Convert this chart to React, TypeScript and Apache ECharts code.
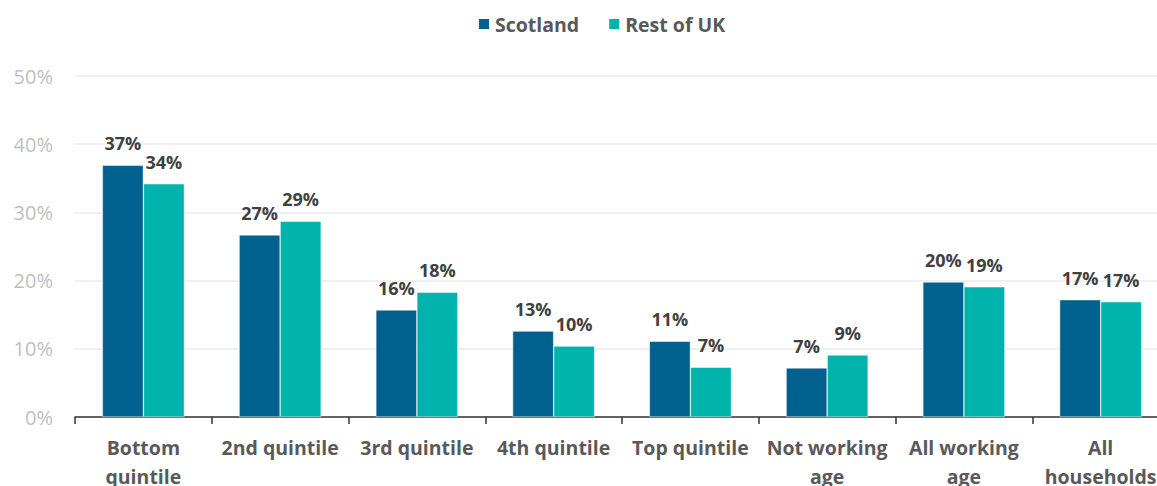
import React, { useEffect, useRef } from "react";
import * as echarts from "echarts";

const categories = [
  "Bottom\nquintile",
  "2nd quintile",
  "3rd quintile",
  "4th quintile",
  "Top quintile",
  "Not working\nage",
  "All working\nage",
  "All\nhouseholds",
];
const scotland = [36.9, 26.7, 15.7, 12.6, 11.1, 7.2, 19.8, 17.2];
const restOfUK = [34.2, 28.7, 18.3, 10.4, 7.3, 9.1, 19.1, 16.9];
const seriesNames = ["Scotland", "Rest of UK"];
const yTicks = { min: 0, max: 50, interval: 10 };

const FONT = "Open Sans";

export default function App() {
  const ref = useRef<HTMLDivElement>(null);
  useEffect(() => {
    if (!ref.current) return;
    const chart = echarts.init(ref.current, null, { renderer: "svg" });
    const label = {
      show: true,
      position: "top" as const,
      distance: 13,
      color: "#404040",
      fontWeight: "bold" as const,
      fontSize: 18,
      fontFamily: FONT,
      formatter: (p: any) => Math.round(p.value) + "%",
    };
    chart.setOption({
      animation: false,
      backgroundColor: "#ffffff",
      textStyle: { fontFamily: FONT },
      legend: {
        top: 9,
        left: 472,
        itemWidth: 12,
        itemHeight: 12,
        itemGap: 28,
        icon: "rect",
        textStyle: { color: "#595959", fontWeight: "bold", fontSize: 19.5, fontFamily: FONT },
        data: seriesNames,
      },
      grid: { left: 75, right: -12, top: 76, bottom: 69, containLabel: false, outerBoundsMode: "none" },
      xAxis: {
        type: "category",
        data: categories,
        axisLine: { lineStyle: { color: "#333333", width: 1.5 } },
        axisTick: { show: true, length: 7, lineStyle: { color: "#333333", width: 1.5 } },
        axisLabel: {
          color: "#595959",
          fontWeight: "bold",
          fontSize: 19.5,
          fontFamily: FONT,
          margin: 16,
          lineHeight: 29,
          interval: 0,
        },
      },
      yAxis: {
        type: "value",
        min: yTicks.min,
        max: yTicks.max,
        interval: yTicks.interval,
        axisLabel: {
          formatter: (v: number) => v + "%",
          color: "#BFBFBF",
          fontSize: 20,
          fontFamily: FONT,
          margin: 22,
        },
        axisLine: { show: false },
        axisTick: { show: false },
        splitLine: { lineStyle: { color: "#F0F0F0", width: 2 } },
      },
      series: [
        {
          name: seriesNames[0],
          type: "bar",
          data: scotland,
          barGap: "0%",
          barCategoryGap: "40%",
          itemStyle: { color: "#00608E", borderColor: "#ffffff", borderWidth: 0.5 },
          label,
        },
        {
          name: seriesNames[1],
          type: "bar",
          data: restOfUK,
          barGap: "0%",
          barCategoryGap: "40%",
          itemStyle: { color: "#00B4AD", borderColor: "#ffffff", borderWidth: 0.5 },
          label,
        },
      ],
    });
    return () => chart.dispose();
  }, []);
  return (
    <div
      ref={ref}
      style={{ position: "fixed", left: 0, top: 0, width: 1157, height: 486 }}
    />
  );
}
